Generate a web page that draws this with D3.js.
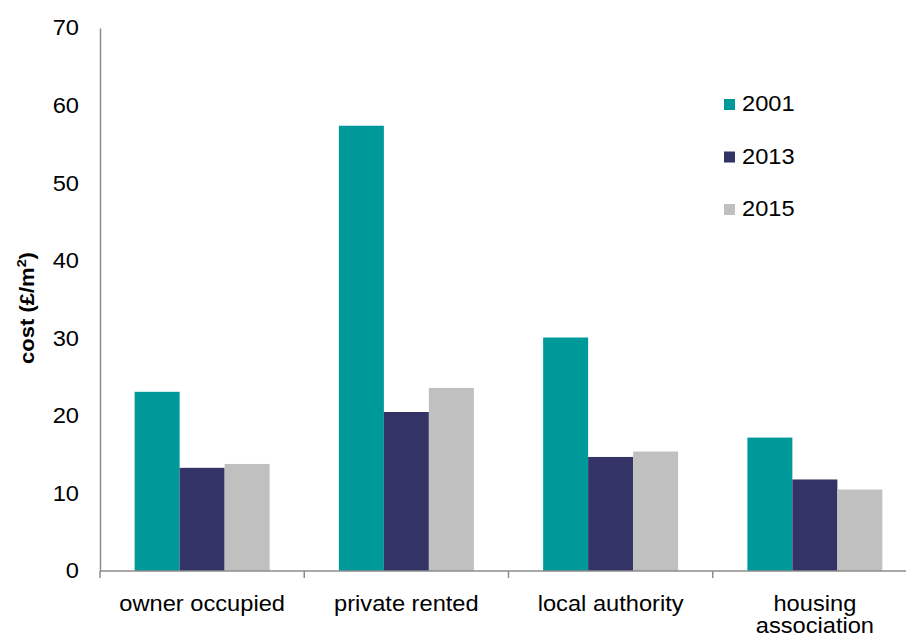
<!DOCTYPE html>
<html><head><meta charset="utf-8">
<script src="https://cdn.jsdelivr.net/npm/d3@7"></script>
<style>body{margin:0;background:#fff} text{font-family:"Liberation Sans",Arial,sans-serif;fill:#000}</style>
</head><body><svg id="c" width="906" height="639"></svg>
<script>
const categories = ["owner occupied","private rented","local authority","housing association"];
const categoryLines = [["owner occupied"],["private rented"],["local authority"],["housing","association"]];
const series = ["2001","2013","2015"];
const values2001 = [23.1,57.4,30.1,17.2];
const values2013 = [13.3,20.5,14.7,11.8];
const values2015 = [13.8,23.6,15.4,10.5];
const yTicks = [0,10,20,30,40,50,60,70];
const colors = ["#009999","#333366","#c0c0c0"];
const yTitle = "cost (£/m";

const seriesValues = [values2001, values2013, values2015];
const svg = d3.select("#c");
const SX = 1.1, FS = 21.5;
const axisColor = "#8c8c8c";

const x = d3.scaleBand().domain(categories).range([100, 917]).paddingInner(0).paddingOuter(0);
const x1 = d3.scaleBand().domain(series).range([0, x.bandwidth()]).paddingInner(0).paddingOuter(0.77);
const y = d3.scaleLinear().domain([0, 70]).range([571, 28]);

// bars
categories.forEach((c, ci) => {
  const g = svg.append("g").attr("transform", `translate(${x(c)},0)`);
  series.forEach((s, si) => {
    const v = seriesValues[si][ci];
    g.append("rect").attr("x", x1(s)).attr("width", x1.bandwidth())
      .attr("y", y(v)).attr("height", y(0) - y(v)).attr("fill", colors[si]);
  });
});

// y axis
const ya = svg.append("g").attr("transform", "translate(100,0)")
  .call(d3.axisLeft(y).tickValues(yTicks).tickSize(0).tickPadding(21).tickFormat(d3.format("d")));
ya.select(".domain").attr("stroke", axisColor).attr("stroke-width", 1.5);
ya.selectAll("text").attr("font-size", FS).attr("font-family", '"Liberation Sans",Arial,sans-serif')
  .attr("x", -21 / SX).attr("transform", `scale(${SX},1)`).attr("fill", "#000");

// x axis
const xa = svg.append("g");
xa.append("line").attr("x1", 100).attr("x2", 906).attr("y1", y(0)).attr("y2", y(0))
  .attr("stroke", axisColor).attr("stroke-width", 1.5);
categories.forEach(c => {
  xa.append("line").attr("x1", x(c)).attr("x2", x(c)).attr("y1", y(0)).attr("y2", y(0) + 7)
    .attr("stroke", axisColor).attr("stroke-width", 1.5);
});
categories.forEach((c, ci) => {
  const cx = x(c) + x.bandwidth() / 2;
  const t = xa.append("text").attr("transform", `translate(${cx},611) scale(${SX},1)`)
    .attr("text-anchor", "middle").attr("font-size", FS);
  categoryLines[ci].forEach((ln, li) => {
    t.append("tspan").attr("x", 0).attr("dy", li === 0 ? 0 : 22).text(ln);
  });
});

// y title
const yt = svg.append("text").attr("transform", `translate(34,308) rotate(-90) scale(${SX},1)`)
  .attr("text-anchor", "middle").attr("font-size", 20).attr("font-weight", "bold");
yt.append("tspan").text(yTitle);
yt.append("tspan").attr("font-size", 13).attr("dy", -8).text("2");
yt.append("tspan").attr("dy", 8).text(")");

// legend
series.forEach((s, si) => {
  const ly = 99 + si * 52.5;
  svg.append("rect").attr("x", 724).attr("y", ly).attr("width", 11).attr("height", 11).attr("fill", colors[si]);
  svg.append("text").attr("transform", `translate(742,${ly + 12}) scale(${SX},1)`)
    .attr("font-size", FS).text(s);
});
</script></body></html>
